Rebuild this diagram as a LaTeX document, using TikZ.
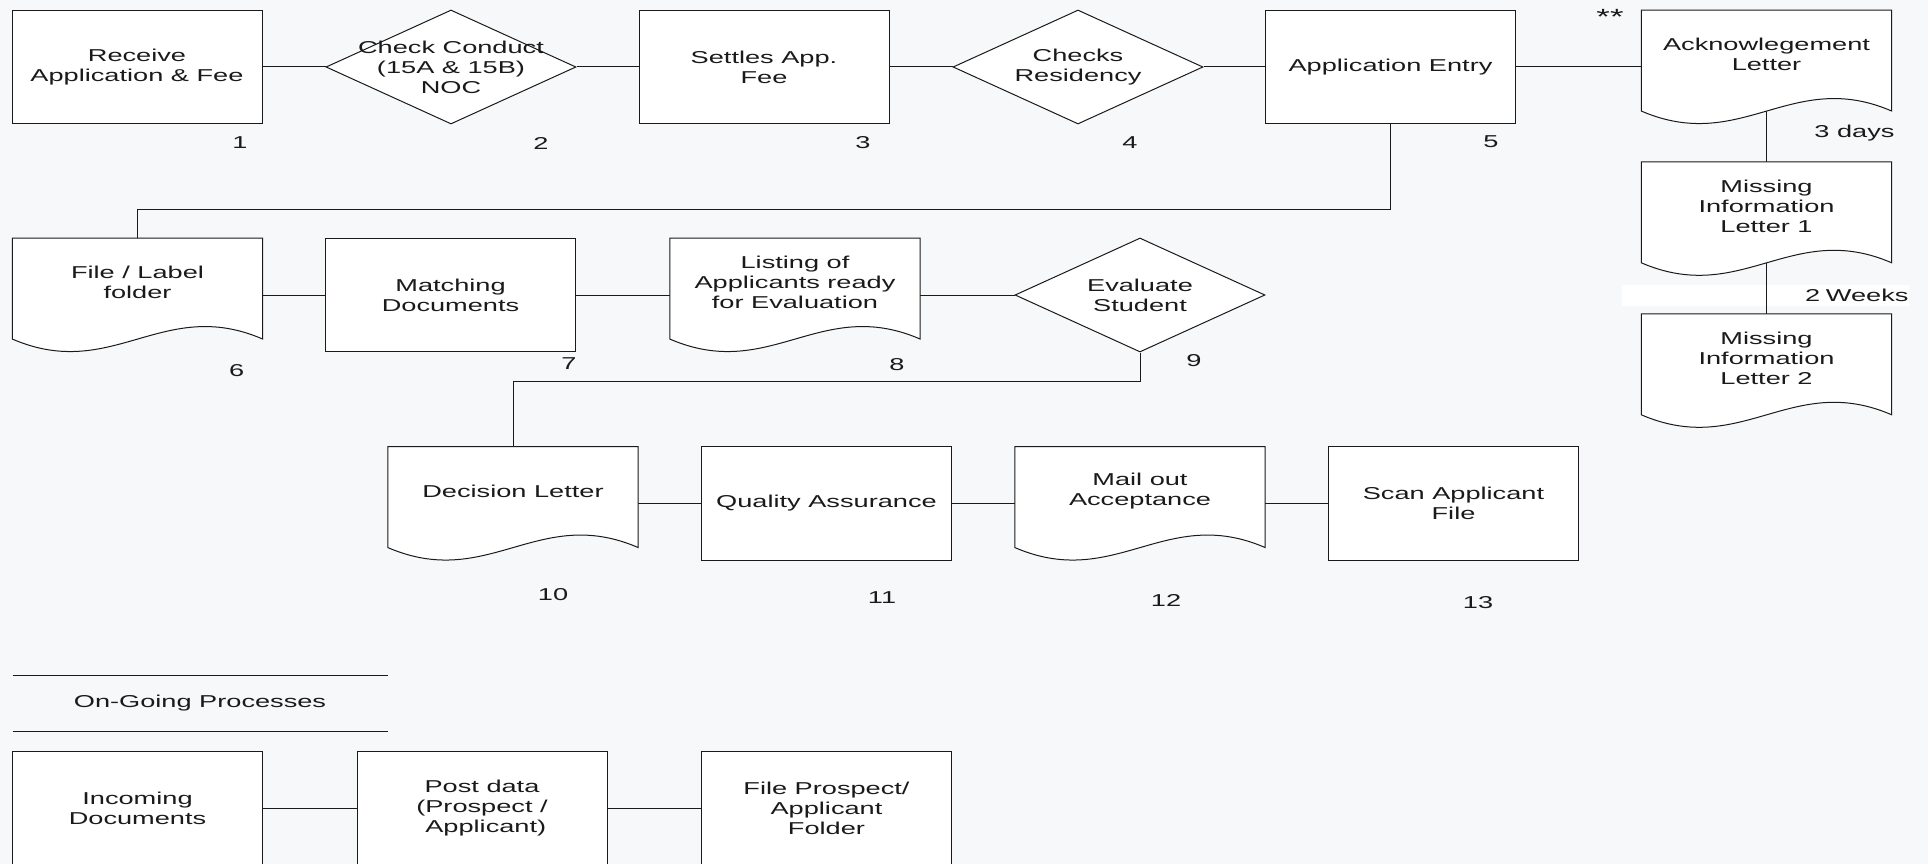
\documentclass[tikz,border=0pt]{standalone}
\usepackage{fontspec}
\setmainfont{Liberation Sans}[FakeStretch=1.58]
\usetikzlibrary{shapes.geometric,calc}
\definecolor{pagebg}{HTML}{F7F8FA}
\definecolor{ink}{HTML}{1A1A1A}
\pgfdeclarelayer{back}
\pgfdeclarelayer{edges}
\pgfdeclarelayer{docs}
\pgfsetlayers{back,edges,docs,main}

\begin{document}
\begin{tikzpicture}[x=1pt,y=-1pt,
  every node/.style={font=\fontsize{17.2}{20}\selectfont, text=ink},
  stepbox/.style={rectangle, draw=ink, line width=1pt, fill=white,
    minimum width=250pt, minimum height=113.5pt, inner sep=0pt, align=center},
  decision/.style={diamond, draw=ink, line width=1pt, fill=white,
    minimum width=250pt, minimum height=114pt, inner sep=0pt},
  docu/.style={rectangle, minimum width=250pt, minimum height=113.5pt, inner sep=0pt},
  doctext/.style={label={[align=center, yshift=12.5pt]center:{#1}}},
  diatext/.style={label={[align=center]center:{#1}}},
  num/.style={inner sep=0pt},
  link/.style={draw=ink, line width=1pt},
  docline/.style={draw=ink, line width=1pt, fill=white},
]
\useasboundingbox (0,0) rectangle (1928,864);

% main flow, first row
\node[stepbox] (b1) at (137,67) {Receive\\Application \& Fee};
\node[decision, diatext={Check Conduct\\(15A \& 15B)\\NOC}] (d2) at (451,67) {};
\node[stepbox] (b3) at (764,67) {Settles App.\\Fee};
\node[decision, diatext={Checks\\Residency}] (d4) at (1078,67) {};
\node[stepbox] (b5) at (1390.5,67) {Application Entry};
\node[docu, doctext={Acknowlegement\\Letter}] (ack) at (1766.5,67) {};
\node[docu, doctext={Missing\\Information\\Letter 1}] (mis1) at (1766.5,218.75) {};
\node[docu, doctext={Missing\\Information\\Letter 2}] (mis2) at (1766.5,370.75) {};

% second row
\node[docu, doctext={File / Label\\folder}] (doc6) at (137.5,295) {};
\node[stepbox] (b7) at (450.5,295) {Matching\\Documents};
\node[docu, doctext={Listing of\\Applicants ready\\for Evaluation}] (doc8) at (795,295) {};
\node[decision, diatext={Evaluate\\Student}] (d9) at (1140,295) {};

% third row
\node[docu, doctext={Decision Letter}] (doc10) at (513,503.5) {};
\node[stepbox] (b11) at (826.5,503.5) {Quality Assurance};
\node[docu, doctext={Mail out\\Acceptance}] (doc12) at (1140,503.5) {};
\node[stepbox] (b13) at (1453.5,503.5) {Scan Applicant\\File};

% on-going processes
\node (og) at (200,703) {On-Going Processes};
\node[stepbox] (b14) at (137.5,808) {Incoming\\Documents};
\node[stepbox] (b15) at (482,808) {Post data\\(Prospect /\\\ Applicant)};
\node[stepbox] (b16) at (826.5,808) {File Prospect/\\Applicant\\Folder};

% step numbers and notes
\node[num] (n1) at (240,143) {1};
\node[num] (n2) at (541,143) {2};
\node[num] (n3) at (863,143) {3};
\node[num] (n4) at (1130,143) {4};
\node[num] (n5) at (1491,142) {5};
\node[num] (n6) at (236.7,371) {6};
\node[num] (n7) at (569,364) {7};
\node[num] (n8) at (897,365) {8};
\node[num] (n9) at (1194,361) {9};
\node[num] (n10) at (553,595) {10};
\node[num] (n11) at (882,598) {11};
\node[num] (n12) at (1166,600.7) {12};
\node[num] (n13) at (1478,602.7) {13};
\node[num, font=\fontsize{22}{24}\selectfont] (stars) at (1610,17) {**};
\node[num] (days) at (1854.5,133) {3 days};

\begin{pgfonlayer}{back}
  \fill[pagebg] (0,0) rectangle (1928,864);
  \node[fill=white, inner sep=0pt, minimum height=21pt, text width=287pt, align=right]
    (weeks) at (1765,295.5) {2 Weeks};
\end{pgfonlayer}

\begin{pgfonlayer}{docs}
  \foreach \n in {ack,mis1,mis2,doc6,doc8,doc10,doc12}
    \draw[docline] (\n.north west) -- (\n.north east) -- ($(\n.north east)+(0,101)$)
      .. controls ($(\n.north east)+(-100,57.7)$) and ($(\n.north east)+(-150,144.3)$)
      .. ($(\n.north west)+(0,101)$) -- cycle;
\end{pgfonlayer}

\begin{pgfonlayer}{edges}
  \draw[link] (b1) -- (d2) -- (b3) -- (d4) -- (b5) -- (ack);
  % letter chain: start at the centre so the line leaves the wavy edge
  \draw[link] (ack.center) -- (mis1.north);
  \draw[link] (mis1.center) -- (mis2.north);
  \draw[link] (b5.south) -- ++(0,85) -| (doc6.north);
  \draw[link] (doc6) -- (b7) -- (doc8) -- (d9);
  \draw[link] (d9.south) -- ++(0,29.3) -| (doc10.north);
  \draw[link] (doc10) -- (b11) -- (doc12) -- (b13);
  \draw[link] (b14) -- (b15) -- (b16);
  \draw[link] (12.5,675) -- (387.5,675);
  \draw[link] (12.5,731) -- (387.5,731);
\end{pgfonlayer}
\end{tikzpicture}
\end{document}
